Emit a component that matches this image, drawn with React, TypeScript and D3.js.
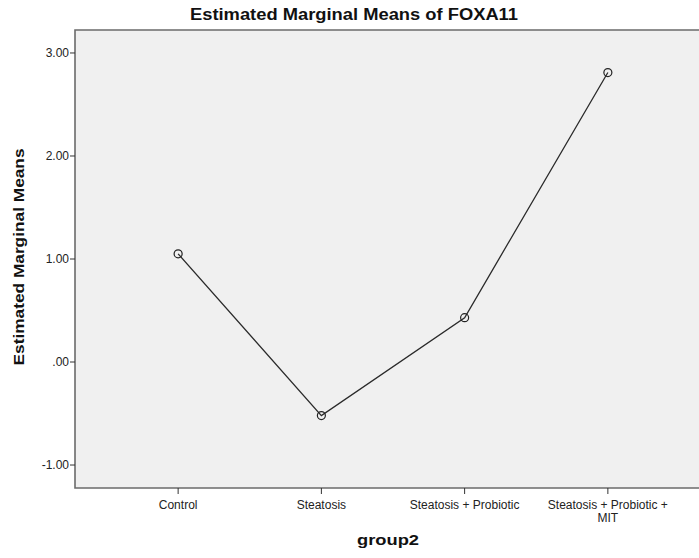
import React, { useEffect, useRef } from "react";
import * as d3 from "d3";

// data
const categories = ["Control", "Steatosis", "Steatosis + Probiotic", "Steatosis + Probiotic + MIT"];
const tickLines = [["Control"], ["Steatosis"], ["Steatosis + Probiotic"], ["Steatosis + Probiotic +", "MIT"]];
const means = [1.05, -0.52, 0.43, 2.81];
const yTicks = [-1, 0, 1, 2, 3];

const App: React.FC = () => {
  const ref = useRef<HTMLDivElement>(null);

  useEffect(() => {
    const width = 699;
    const height = 558;
    const left = 75;
    const right = 711; // plot runs past the window edge
    const top = 30;
    const bottom = 488;
    const font = "'Liberation Sans', Arial, sans-serif";

    const svg = d3
      .select(ref.current)
      .selectAll("svg")
      .data([null])
      .join("svg")
      .attr("width", width)
      .attr("height", height)
      .style("position", "fixed")
      .style("left", "0px")
      .style("top", "0px")
      .style("background", "#fff")
      .style("font-family", font);

    svg.selectAll("*").remove();

    const x = d3.scalePoint<string>().domain(categories).range([left, right]).padding(0.72);
    const y = d3.scaleLinear().domain([-1.223, 3.223]).range([bottom, top]);

    // plot background
    svg
      .append("rect")
      .attr("x", left)
      .attr("y", top)
      .attr("width", right - left)
      .attr("height", bottom - top)
      .attr("fill", "#f0f0f0");

    // frame (left, top, bottom)
    svg
      .append("path")
      .attr("d", `M${right},${top}H${left}V${bottom}H${right}`)
      .attr("fill", "none")
      .attr("stroke", "#6b6b6b")
      .attr("stroke-width", 1.6);

    const fmt = (v: number) => v.toFixed(2).replace(/^(-?)0\./, "$1.");

    // y axis ticks
    const yt = svg.append("g");
    yTicks.forEach((v) => {
      yt.append("line")
        .attr("x1", left - 5)
        .attr("x2", left)
        .attr("y1", y(v))
        .attr("y2", y(v))
        .attr("stroke", "#333")
        .attr("stroke-width", 1);
      yt.append("text")
        .attr("x", left - 6)
        .attr("y", y(v))
        .attr("dy", "0.35em")
        .attr("text-anchor", "end")
        .attr("font-size", 12)
        .attr("fill", "#222")
        .text(fmt(v));
    });

    // x axis ticks
    const xt = svg.append("g");
    categories.forEach((c, i) => {
      const cx = x(c) as number;
      xt.append("line")
        .attr("x1", cx)
        .attr("x2", cx)
        .attr("y1", bottom)
        .attr("y2", bottom + 6)
        .attr("stroke", "#333")
        .attr("stroke-width", 1);
      tickLines[i].forEach((ln, j) => {
        xt.append("text")
          .attr("x", cx)
          .attr("y", bottom + 21 + j * 13)
          .attr("text-anchor", "middle")
          .attr("font-size", 12)
          .attr("fill", "#222")
          .text(ln);
      });
    });

    // line + markers
    const pts = categories.map((c, i) => ({ c, v: means[i] }));
    const line = d3
      .line<{ c: string; v: number }>()
      .x((d) => x(d.c) as number)
      .y((d) => y(d.v));

    svg
      .append("path")
      .datum(pts)
      .attr("fill", "none")
      .attr("stroke", "#2a2a2a")
      .attr("stroke-width", 1.3)
      .attr("d", line);

    svg
      .append("g")
      .selectAll("circle")
      .data(pts)
      .join("circle")
      .attr("cx", (d) => x(d.c) as number)
      .attr("cy", (d) => y(d.v))
      .attr("r", 4)
      .attr("fill", "none")
      .attr("stroke", "#222")
      .attr("stroke-width", 1.2);

    // titles
    svg
      .append("text")
      .attr("x", 354)
      .attr("y", 20)
      .attr("text-anchor", "middle")
      .attr("font-size", 16)
      .attr("font-weight", "bold")
      .attr("fill", "#111")
      .attr("textLength", 328)
      .attr("lengthAdjust", "spacingAndGlyphs")
      .text("Estimated Marginal Means of FOXA11");

    svg
      .append("text")
      .attr("x", 388)
      .attr("y", 545)
      .attr("text-anchor", "middle")
      .attr("font-size", 15.5)
      .attr("font-weight", "bold")
      .attr("fill", "#111")
      .attr("textLength", 62)
      .attr("lengthAdjust", "spacingAndGlyphs")
      .text("group2");

    svg
      .append("text")
      .attr("transform", `translate(24,257) rotate(-90)`)
      .attr("text-anchor", "middle")
      .attr("font-size", 15.5)
      .attr("font-weight", "bold")
      .attr("fill", "#111")
      .attr("textLength", 217)
      .attr("lengthAdjust", "spacingAndGlyphs")
      .text("Estimated Marginal Means");
  }, []);

  return <div ref={ref} />;
};

export default App;
